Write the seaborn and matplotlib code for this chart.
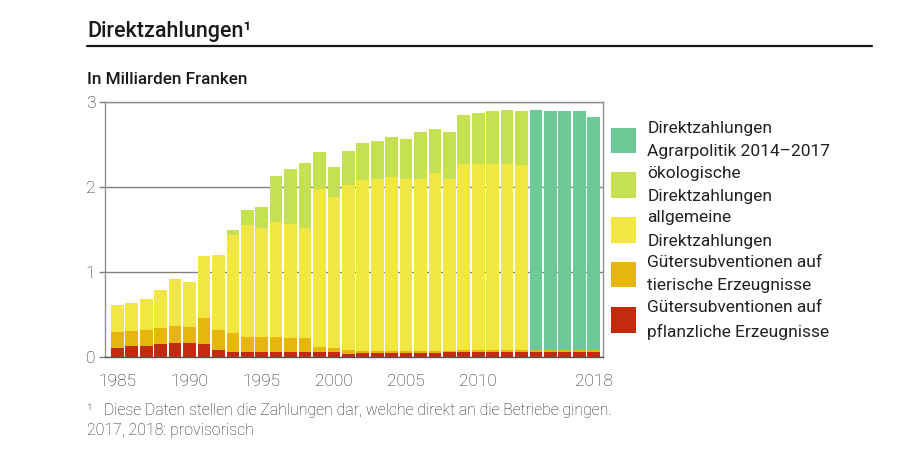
import numpy as np
import pandas as pd
import matplotlib
matplotlib.use("Agg")
import matplotlib.pyplot as plt
from matplotlib.patches import Patch
import seaborn as sns

years = list(range(1985, 2019))
# segments in Mrd. Franken (bottom -> top)
pflanzlich = [0.11, 0.13, 0.13, 0.155, 0.165, 0.16, 0.157, 0.086, 0.06, 0.058,
              0.058, 0.058, 0.058, 0.058, 0.058, 0.058, 0.04, 0.045, 0.045, 0.05,
              0.05, 0.045, 0.05, 0.055, 0.06, 0.06, 0.06, 0.06, 0.06, 0.06,
              0.06, 0.06, 0.06, 0.06]
tierisch = [0.18, 0.18, 0.19, 0.19, 0.195, 0.197, 0.298, 0.234, 0.223, 0.178,
            0.178, 0.178, 0.16, 0.16, 0.056, 0.048, 0.04, 0.025, 0.025, 0.025,
            0.025, 0.025, 0.025, 0.02, 0.02, 0.02, 0.02, 0.02, 0.02, 0.02,
            0.02, 0.02, 0.02, 0.02]
allgemein_top = [0.616, 0.636, 0.683, 0.785, 0.919, 0.879, 1.186, 1.197, 1.437, 1.558,
                 1.513, 1.588, 1.56, 1.517, 1.978, 1.877, 2.02, 2.08, 2.10, 2.12,
                 2.10, 2.10, 2.16, 2.10, 2.27, 2.275, 2.275, 2.275, 2.253, None,
                 None, None, None, None]
oekologisch_top = [None] * 8 + [1.491, 1.733, 1.767, 2.132, 2.21, 2.277, 2.417, 2.23,
                                2.42, 2.52, 2.54, 2.59, 2.56, 2.65, 2.686, 2.646, 2.846,
                                2.866, 2.893, 2.905, 2.897, None, None, None, None, None]
agrarpolitik_top = [None] * 29 + [2.905, 2.889, 2.889, 2.897, 2.819]

labels = ["Direktzahlungen\nAgrarpolitik 2014–2017",
          "ökologische\nDirektzahlungen",
          "allgemeine\nDirektzahlungen",
          "Gütersubventionen auf\ntierische Erzeugnisse",
          "Gütersubventionen auf\npflanzliche Erzeugnisse"]
colors = ["#6fc996", "#c5e052", "#f2e642", "#e6b60f", "#c42a0e"]
tick_years = [1985, 1990, 1995, 2000, 2005, 2010, 2018]

# derive segment values
red = np.array(pflanzlich)
tier = np.array(tierisch)
cum_tier = red + tier
allg = np.array([max(t - c, 0) if t is not None else 0 for t, c in zip(allgemein_top, cum_tier)])
cum_allg = cum_tier + allg
oek = np.array([max(t - c, 0) if t is not None else 0 for t, c in zip(oekologisch_top, cum_allg)])
cum_oek = cum_allg + oek
agr = np.array([max(t - c, 0) if t is not None else 0 for t, c in zip(agrarpolitik_top, cum_oek)])
cum_agr = cum_oek + agr

sns.set_style("white")
plt.rcParams["font.family"] = ["Roboto", "DejaVu Sans"]

fig = plt.figure(figsize=(9, 4.5), dpi=100)
ax = fig.add_axes([105 / 900, 1 - 357 / 450, 498 / 900, 255 / 450])

ycats = [str(y) for y in years]
layers = [cum_agr, cum_oek, cum_allg, cum_tier, red]
for vals, col in zip(layers, colors):
    sns.barplot(x=ycats, y=vals, color=col, saturation=1, width=0.88,
                order=ycats, ax=ax, linewidth=0, errorbar=None)

ax.set_ylim(0, 3)
ax.set_xlim(-0.86, 33.65)
ax.set_yticks([0, 1, 2, 3])
ax.set_yticklabels(["0", "1", "2", "3"])
ax.set_axisbelow(True)
ax.yaxis.grid(True, color="#808080", linewidth=1.0)
ax.xaxis.grid(False)
ax.set_xlabel("")
ax.set_ylabel("")
pos = [years.index(y) for y in tick_years]
ax.set_xticks(pos)
ax.set_xticklabels([str(y) for y in tick_years])
ax.tick_params(axis="x", length=0, pad=12, labelsize=12.5, labelcolor="#222222")
ax.tick_params(axis="y", length=4, width=1, color="#808080", pad=3,
               labelsize=12.5, labelcolor="#222222", left=True)
for lab in ax.get_xticklabels() + ax.get_yticklabels():
    lab.set_fontweight("light")
for s in ax.spines.values():
    s.set_color("#909090")
    s.set_linewidth(1.0)
ax.spines["bottom"].set_color("#555555")

# title, rule, subtitle
fig.text(87 / 900, 1 - 37 / 450, "Direktzahlungen¹", fontsize=15.5, fontweight="medium",
         color="#1a1a1a", ha="left", va="baseline")
fig.add_artist(plt.Line2D([87 / 900, 872 / 900], [1 - 46 / 450, 1 - 46 / 450],
                          color="#1a1a1a", linewidth=1.6))
fig.text(87 / 900, 1 - 84 / 450, "In Milliarden Franken", fontsize=12.3, fontweight="medium",
         color="#1a1a1a", ha="left", va="baseline")

handles = [Patch(facecolor=c, edgecolor="none") for c in colors]
leg = fig.legend(handles, labels, loc="upper left", bbox_to_anchor=(611 / 900, 1 - 121 / 450),
                 frameon=False, fontsize=12.5, handlelength=1.45, handleheight=1.9,
                 handletextpad=0.65, labelspacing=0.36, borderpad=0, borderaxespad=0,
                 labelcolor="#222222")
for t in leg.get_texts():
    t.set_linespacing(1.7)

fig.text(87 / 900, 1 - 415 / 450,
         "¹   Diese Daten stellen die Zahlungen dar, welche direkt an die Betriebe gingen.",
         fontsize=11.4, color="#222222", ha="left", va="baseline", fontweight="light")
fig.text(87 / 900, 1 - 435 / 450, "2017, 2018: provisorisch",
         fontsize=11.4, color="#222222", ha="left", va="baseline", fontweight="light")

fig.savefig("out.png", dpi=100)
